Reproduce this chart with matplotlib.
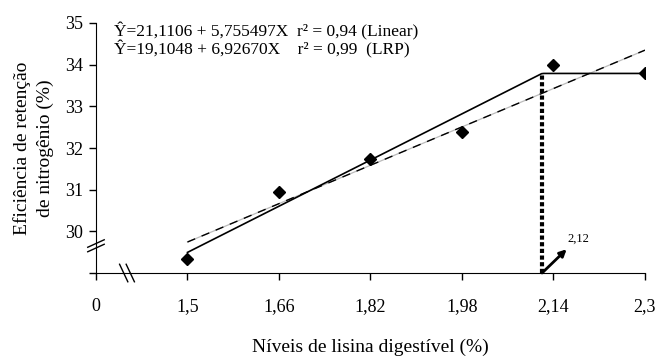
import matplotlib.pyplot as plt
import numpy as np

plt.rcParams['font.family'] = ['Liberation Serif', 'DejaVu Serif']

# data
lysine = [1.5, 1.66, 1.82, 1.98, 2.14, 2.3]
retention = [29.33, 30.95, 31.74, 32.38, 34.0, 33.79]
x_ticks = [0, 1.5, 1.66, 1.82, 1.98, 2.14, 2.3]
x_tick_labels = ['0', '1,5', '1,66', '1,82', '1,98', '2,14', '2,3']
y_ticks = [30, 31, 32, 33, 34, 35]

lin_a, lin_b = 21.1106, 5.755497
lrp_a, lrp_b = 19.1048, 6.92670
breakpoint_x = 2.12


def xpos(x):
    # broken axis: 0 sits one step left of 1.5, then 0.16 per step
    x = np.asarray(x, dtype=float)
    return np.where(x == 0, 0.0, (x - 1.34) / 0.16)


fig = plt.figure(figsize=(6.56, 3.56), dpi=100)
ax = fig.add_axes([0.1463, 0.2331, 0.9832 - 0.1463, 0.9354 - 0.2331])

xs = np.linspace(1.5, 2.3, 200)
# linear fit: light grey line with black dashes over it
y_lin = lin_a + lin_b * xs
ax.plot(xpos(xs), y_lin, color='#bbbbbb', lw=0.9)
ax.plot(xpos(xs), y_lin, color='black', lw=1.0, dashes=(6, 5))

# LRP fit
y_lrp = np.where(xs < breakpoint_x, lrp_a + lrp_b * xs, lrp_a + lrp_b * breakpoint_x)
ax.plot(xpos(xs), y_lrp, color='black', lw=1.2)

plateau = lrp_a + lrp_b * breakpoint_x
ax.plot(xpos([breakpoint_x, breakpoint_x]), [29, plateau], color='black', lw=3,
        linestyle=(0, (1, 0.6)))

ax.plot(xpos(lysine), retention, 'D', color='black', markersize=6)

ax.annotate('', xy=(xpos(2.163), 29.57), xytext=(xpos(breakpoint_x), 29.0),
            arrowprops=dict(arrowstyle='-|>', color='black', lw=2, mutation_scale=10,
                            shrinkA=0, shrinkB=0))
ax.text(xpos(2.165), 29.75, '2,12', fontsize=9)

ax.text(0.2, 34.80, 'Ŷ=21,1106 + 5,755497X  r² = 0,94 (Linear)', fontsize=12.5, va='center')
ax.text(0.2, 34.36, 'Ŷ=19,1048 + 6,92670X    r² = 0,99  (LRP)', fontsize=12.5, va='center')

ax.set_xlim(0, 6)
ax.set_ylim(29, 35)
ax.set_xticks(xpos(x_ticks))
ax.set_xticklabels(x_tick_labels, fontsize=13)
ax.set_yticks([29] + y_ticks)
ax.set_yticklabels([''] + [str(v) for v in y_ticks], fontsize=13)
ax.tick_params(length=5, width=1)
ax.tick_params(axis='x', pad=13)
ax.tick_params(axis='y', pad=4)
for s in ['top', 'right']:
    ax.spines[s].set_visible(False)

# axis break marks
kw = dict(color='black', lw=1, clip_on=False, transform=ax.transAxes)
for dy in (0, 0.018):
    ax.plot([-0.015, 0.015], [0.085 + dy, 0.115 + dy], **kw)
for dx in (0, 0.012):
    ax.plot([0.043 + dx, 0.058 + dx], [0.035, -0.035], **kw)

ax.set_xlabel('Níveis de lisina digestível (%)', fontsize=14, labelpad=17)
fig.text(22 / 656, 1 - 148 / 356, 'Eficiência de retenção', fontsize=14,
         rotation=90, ha='center', va='center')
fig.text(45 / 656, 1 - 148 / 356, 'de nitrogênio (%)', fontsize=14,
         rotation=90, ha='center', va='center')

fig.savefig('out.png', dpi=100)
